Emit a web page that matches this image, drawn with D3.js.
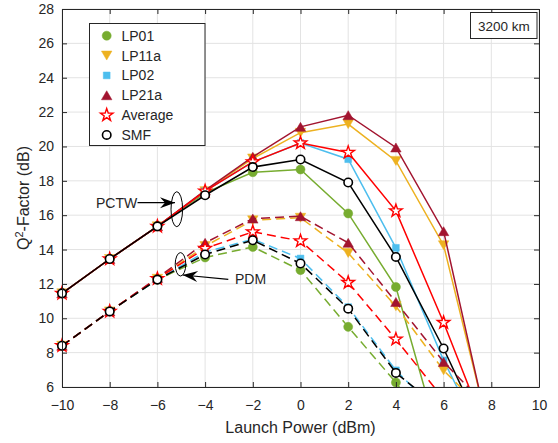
<!DOCTYPE html>
<html><head><meta charset="utf-8">
<script src="https://cdn.jsdelivr.net/npm/d3@7/dist/d3.min.js"></script>
<style>
body{margin:0;background:#fff;}
svg text{font-family:"Liberation Sans",Arial,Helvetica,sans-serif;fill:#262626;}
</style></head><body>
<svg id="chart" width="558" height="443"></svg>
<script>
// ---- data ----
const powers = [-10, -8, -6, -4, -2, 0, 2, 4, 6, 8];
const xTicks = [-10, -8, -6, -4, -2, 0, 2, 4, 6, 8, 10];
const yTicks = [6, 8, 10, 12, 14, 16, 18, 20, 22, 24, 26, 28];
const seriesNames = ["LP01", "LP11a", "LP02", "LP21a", "Average", "SMF"];
// PCTW (solid)
const pctwLP01  = [11.45, 13.45, 15.35, 17.30, 18.50, 18.66, 16.10, 11.82, 2.0, -4.0];
const pctwLP11a = [11.45, 13.45, 15.35, 17.40, 19.30, 20.80, 21.30, 19.16, 14.25, 2.9];
const pctwLP02  = [11.45, 13.45, 15.35, 17.40, 19.10, 20.20, 19.26, 14.10, 7.55, 2.0];
const pctwLP21a = [11.45, 13.45, 15.35, 17.45, 19.40, 21.14, 21.82, 19.94, 15.07, 2.7];
const pctwAvg   = [11.45, 13.45, 15.35, 17.40, 19.10, 20.20, 19.65, 16.25, 9.75, 2.7];
const pctwSMF   = [11.45, 13.45, 15.35, 17.16, 18.80, 19.24, 17.90, 13.57, 8.24, 2.3];
// PDM (dashed)
const pdmLP01  = [8.40, 10.40, 12.25, 13.54, 14.15, 12.80, 9.50, 6.26, 2.5, -1.0];
const pdmLP11a = [8.40, 10.40, 12.30, 14.20, 15.70, 15.85, 13.80, 10.70, 6.97, 4.2];
const pdmLP02  = [8.40, 10.40, 12.25, 13.85, 14.60, 13.48, 10.65, 6.97, 4.2, -1.0];
const pdmLP21a = [8.40, 10.40, 12.35, 14.39, 15.80, 15.94, 14.39, 10.95, 7.46, 4.6];
const pdmAvg   = [8.40, 10.40, 12.30, 14.06, 15.03, 14.50, 12.08, 8.78, 5.30, 0.3];
const pdmSMF   = [8.40, 10.40, 12.25, 13.71, 14.54, 13.19, 10.56, 6.82, 4.60, -1.0];

const colors = {LP01:"#77AC30", LP11a:"#EDB120", LP02:"#4DBEEE", LP21a:"#A2142F", Average:"#FF0000", SMF:"#000000"};
const pctw = {LP01:pctwLP01, LP11a:pctwLP11a, LP02:pctwLP02, LP21a:pctwLP21a, Average:pctwAvg, SMF:pctwSMF};
const pdm  = {LP01:pdmLP01, LP11a:pdmLP11a, LP02:pdmLP02, LP21a:pdmLP21a, Average:pdmAvg, SMF:pdmSMF};

// ---- layout ----
const svg = d3.select("#chart");
const m = {left:62, top:9, right:539, bottom:387};
const x = d3.scaleLinear().domain([-10, 10]).range([m.left, m.right]);
const y = d3.scaleLinear().domain([6, 28]).range([m.bottom, m.top]);
const axisColor = "#262626";

svg.append("defs").append("clipPath").attr("id","clip")
  .append("rect").attr("x",m.left).attr("y",m.top)
  .attr("width",m.right-m.left).attr("height",m.bottom-m.top);

// grid
const grid = svg.append("g");
grid.selectAll(".gx").data(xTicks).enter().append("line")
  .attr("x1",d=>x(d)).attr("x2",d=>x(d)).attr("y1",m.top).attr("y2",m.bottom)
  .attr("stroke","#e3e3e3").attr("stroke-width",1);
grid.selectAll(".gy").data(yTicks).enter().append("line")
  .attr("y1",d=>y(d)).attr("y2",d=>y(d)).attr("x1",m.left).attr("x2",m.right)
  .attr("stroke","#e3e3e3").attr("stroke-width",1);

// marker shapes
function markerPath(name){
  if(name==="LP01"||name==="SMF"){ return d3.symbol().type(d3.symbolCircle).size(name==="SMF"?56:64)(); }
  if(name==="LP11a") return "M-5.25,-4.5L5.25,-4.5L0,4.5Z";
  if(name==="LP21a") return "M0,-4.5L5.25,4.5L-5.25,4.5Z";
  if(name==="LP02") return "M-3.4,-3.4H3.4V3.4H-3.4Z";
  // pentagram
  const R=6.6, r=2.6; let p="";
  for(let i=0;i<10;i++){const a=-Math.PI/2+i*Math.PI/5; const rr=i%2?r:R; p+=(i?"L":"M")+(rr*Math.cos(a)).toFixed(2)+","+(rr*Math.sin(a)).toFixed(2);}
  return p+"Z";
}
function styleMarker(sel,name){
  const c=colors[name];
  if(name==="Average") sel.attr("fill","#fff").attr("stroke",c).attr("stroke-width",1.4);
  else if(name==="SMF") sel.attr("fill","#fff").attr("stroke","#000").attr("stroke-width",1.6);
  else sel.attr("fill",c).attr("stroke",c).attr("stroke-width",0.5);
}

const line = d3.line().x((d,i)=>x(powers[i])).y(d=>y(d));
const plot = svg.append("g");
function drawSeries(group, name, vals, dashed){
  const g = plot.append("g");
  g.append("path").datum(vals).attr("d",line).attr("clip-path","url(#clip)")
    .attr("fill","none").attr("stroke",colors[name]).attr("stroke-width",1.5)
    .attr("stroke-dasharray",dashed?"9,5":null);
  const pts = vals.map((v,i)=>({x:powers[i],v})).filter(p=>p.v>=6 && p.v<=28);
  g.selectAll("path.mk").data(pts).enter().append("path").attr("class","mk")
    .attr("d",markerPath(name))
    .attr("transform",p=>`translate(${x(p.x)},${y(p.v)})`)
    .call(s=>styleMarker(s,name));
}
seriesNames.forEach(n=>drawSeries(plot,n,pctw[n],false));
seriesNames.forEach(n=>drawSeries(plot,n,pdm[n],true));

// axes
const fmt = d3.format("d");
const ax = svg.append("g").attr("transform",`translate(0,${m.bottom})`)
  .call(d3.axisBottom(x).tickValues(xTicks).tickFormat(fmt).tickSizeInner(-5).tickSizeOuter(0).tickPadding(13));
const ay = svg.append("g").attr("transform",`translate(${m.left},0)`)
  .call(d3.axisLeft(y).tickValues(yTicks).tickFormat(fmt).tickSizeInner(-5).tickSizeOuter(0).tickPadding(8));
const at = svg.append("g").attr("transform",`translate(0,${m.top})`)
  .call(d3.axisTop(x).tickValues(xTicks).tickFormat("").tickSizeInner(-5).tickSizeOuter(0));
const ar = svg.append("g").attr("transform",`translate(${m.right},0)`)
  .call(d3.axisRight(y).tickValues(yTicks).tickFormat("").tickSizeInner(-5).tickSizeOuter(0));
[ax,ay,at,ar].forEach(a=>{
  a.select(".domain").attr("stroke",axisColor).attr("stroke-width",1);
  a.selectAll(".tick line").attr("stroke",axisColor).attr("stroke-width",1);
  a.selectAll(".tick text").attr("fill",axisColor).style("font-size","14px")
   .style("font-family","'Liberation Sans',Arial,sans-serif");
});

// axis labels
svg.append("text").attr("x",(m.left+m.right)/2).attr("y",433).attr("text-anchor","middle")
  .style("font-size","16px").text("Launch Power (dBm)");
const yl = svg.append("text").attr("transform",`translate(29,${(m.top+m.bottom)/2}) rotate(-90)`)
  .attr("text-anchor","middle").style("font-size","16px");
yl.append("tspan").text("Q");
yl.append("tspan").attr("dy",-6).style("font-size","11px").text("2");
yl.append("tspan").attr("dy",6).text("-Factor (dB)");

// legend
const lg = svg.append("g");
lg.append("rect").attr("x",89.5).attr("y",23.5).attr("width",115.5).attr("height",122)
  .attr("fill","#fff").attr("stroke",axisColor).attr("stroke-width",1);
seriesNames.forEach((n,i)=>{
  const yy = 35.7 + i*19.85;
  lg.append("path").attr("d",markerPath(n)).attr("transform",`translate(106.7,${yy})`).call(s=>styleMarker(s,n));
  lg.append("text").attr("x",121.5).attr("y",yy+5).style("font-size","14px").text(n);
});

// distance box
svg.append("rect").attr("x",470.5).attr("y",12.5).attr("width",66.5).attr("height",26)
  .attr("fill","#fff").attr("stroke",axisColor).attr("stroke-width",1);
svg.append("text").attr("x",503.8).attr("y",30.5).attr("text-anchor","middle").style("font-size","13.5px").text("3200 km");

// annotations
function arrow(x1,y1,x2,y2){
  svg.append("line").attr("x1",x1).attr("y1",y1).attr("x2",x2).attr("y2",y2)
    .attr("stroke","#000").attr("stroke-width",1.2);
  const ang=Math.atan2(y2-y1,x2-x1), L=15, W=5.5, b=10;
  const ux=Math.cos(ang), uy=Math.sin(ang);
  const p1=[x2-L*ux+W*uy, y2-L*uy-W*ux], p2=[x2-L*ux-W*uy, y2-L*uy+W*ux], pb=[x2-b*ux,y2-b*uy];
  svg.append("path").attr("d",`M${x2},${y2}L${p1}L${pb}L${p2}Z`).attr("fill","#000");
}
svg.append("ellipse").attr("cx",176.8).attr("cy",209.2).attr("rx",5.8).attr("ry",17.5)
  .attr("fill","none").attr("stroke","#000").attr("stroke-width",1);
svg.append("ellipse").attr("cx",180.5).attr("cy",264.3).attr("rx",5.3).attr("ry",11.7)
  .attr("fill","none").attr("stroke","#000").attr("stroke-width",1);
arrow(137.5,202.7,175,202.7);
arrow(228.3,279.3,182.7,275);
svg.append("text").attr("x",96).attr("y",208).style("font-size","14px").text("PCTW");
svg.append("text").attr("x",235).attr("y",284).style("font-size","14px").text("PDM");
</script></body></html>
